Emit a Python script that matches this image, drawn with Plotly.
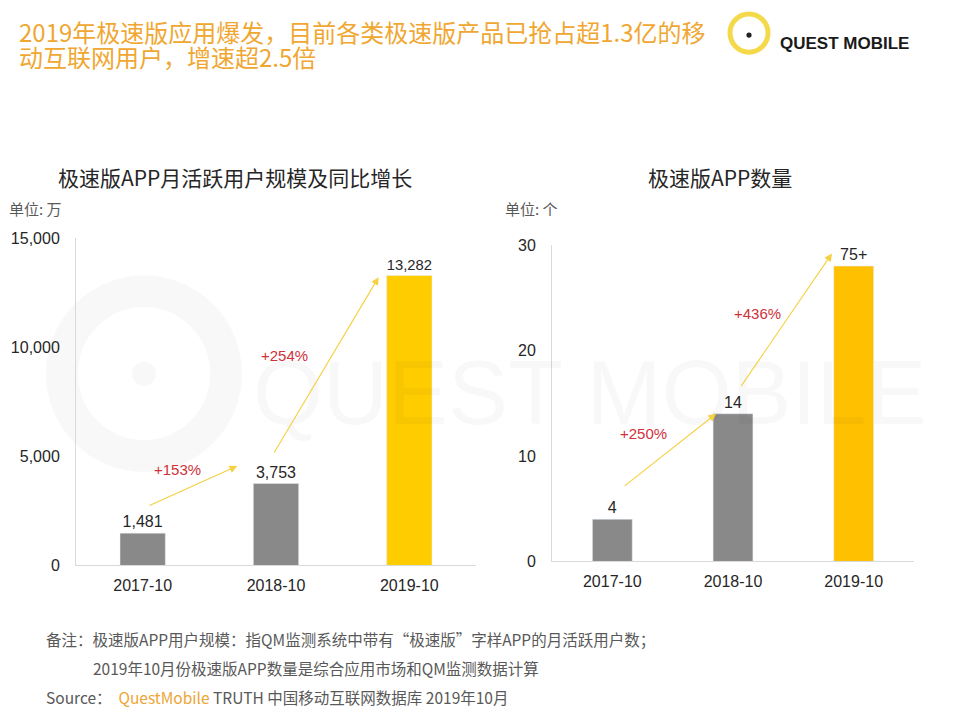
import plotly.graph_objects as go

# ---------------- data ----------------
months = ["2017-10", "2018-10", "2019-10"]
mau_values = [1481, 3753, 13282]          # 万
mau_labels = ["1,481", "3,753", "13,282"]
mau_growth = ["+153%", "+254%"]

app_count_drawn = [4, 14, 28]            # bar height as drawn (axis capped at 30)
app_count_labels = ["4", "14", "75+"]
app_growth = ["+250%", "+436%"]

left_ticks = [0, 5000, 10000, 15000]
left_ticktext = ["0", "5,000", "10,000", "15,000"]
right_ticks = [0, 10, 20, 30]

GREY = "#898989"
YEL_L = "#FFCC00"
YEL_R = "#FFC000"
ARROW = "#F5D040"
RED = "#D0313A"
TXT = "#262626"
NUMF = "Liberation Sans, Arial, Noto Sans CJK SC"
CJK = "Noto Sans CJK SC, Microsoft YaHei, sans-serif"

W, H = 960, 720
OFFX = 8

def px_x(x):
    return (x - OFFX) / W

def px_y(y):
    return 1 - ((y - 17) / 0.972) / H

def P(x, y):
    return dict(x=px_x(x), y=px_y(y), xref="paper", yref="paper")

fig = go.Figure()

fig.add_trace(go.Bar(
    x=months, y=mau_values, text=mau_labels, textposition="outside",
    marker_color=[GREY, GREY, YEL_L], width=0.34, cliponaxis=False,
    textfont=dict(family=NUMF, size=16, color=TXT),
    xaxis="x", yaxis="y", showlegend=False, hoverinfo="skip"))

fig.add_trace(go.Bar(
    x=months, y=app_count_drawn, text=app_count_labels, textposition="outside",
    marker_color=[GREY, GREY, YEL_R], width=0.33, cliponaxis=False,
    textfont=dict(family=NUMF, size=16, color=TXT),
    xaxis="x2", yaxis="y2", showlegend=False, hoverinfo="skip"))

axis_common = dict(showline=True, linecolor="#D9D9D9", linewidth=1,
                   showgrid=False, zeroline=False, ticks="",
                   tickfont=dict(family=NUMF, size=16, color=TXT))

fig.update_layout(
    width=W, height=H,
    margin=dict(l=0, r=0, t=0, b=0),
    paper_bgcolor="white", plot_bgcolor="rgba(0,0,0,0)",
    xaxis=dict(domain=[px_x(76), px_x(476)], anchor="y", type="category",
               ticklabelstandoff=5, **axis_common),
    yaxis=dict(domain=[px_y(564), px_y(238)], anchor="x", range=[0, 15000],
               tickvals=left_ticks, ticktext=left_ticktext,
               ticklabelstandoff=12, **axis_common),
    xaxis2=dict(domain=[px_x(552), px_x(914)], anchor="y2", type="category",
                ticklabelstandoff=5, **axis_common),
    yaxis2=dict(domain=[px_y(560), px_y(245)], anchor="x2", range=[0, 30],
                tickvals=right_ticks, ticklabelstandoff=12, **axis_common),
    font=dict(family=CJK),
)

ann = []
shapes = []

def circle(cx, cy, r, **kw):
    return dict(type="circle", xref="paper", yref="paper",
                x0=px_x(cx - r), x1=px_x(cx + r), y0=px_y(cy + r), y1=px_y(cy - r), **kw)

# watermark
WM = "rgba(0,0,0,0.028)"
shapes.append(circle(144, 373, 82, line=dict(color=WM, width=32), layer="below"))
shapes.append(circle(144, 373, 12, fillcolor=WM, line=dict(width=0), layer="below"))
ann.append(dict(text="QUEST MOBILE", **P(590, 392), xanchor="center", yanchor="middle",
                showarrow=False, font=dict(family="Liberation Sans", size=90, color=WM)))

# header
HC = "#F0A732"
ann.append(dict(text="2019年极速版应用爆发，目前各类极速版产品已抢占超1.3亿的移",
                **P(17, 32), xanchor="left", yanchor="middle", showarrow=False,
                font=dict(family=CJK, size=24, color=HC)))
ann.append(dict(text="动互联网用户，增速超2.5倍",
                **P(17, 57), xanchor="left", yanchor="middle", showarrow=False,
                font=dict(family=CJK, size=24, color=HC)))
# logo
shapes.append(circle(749, 34, 19, line=dict(color="#F4DA4A", width=5)))
shapes.append(circle(749, 36, 2.6, fillcolor="#222222", line=dict(width=0)))
ann.append(dict(text="<b>QUEST MOBILE</b>", **P(778, 44),
                xanchor="left", yanchor="middle", showarrow=False,
                font=dict(family="Liberation Sans", size=17, color="#1a1a1a")))

# chart titles
ann.append(dict(text="极速版APP月活跃用户规模及同比增长", **P(235, 177),
                xanchor="center", yanchor="middle", showarrow=False,
                font=dict(family=CJK, size=21, color="#262626")))
ann.append(dict(text="极速版APP数量", **P(720, 177),
                xanchor="center", yanchor="middle", showarrow=False,
                font=dict(family=CJK, size=21, color="#262626")))
ann.append(dict(text="单位: 万", **P(7, 209), xanchor="left", yanchor="middle",
                showarrow=False, font=dict(family=CJK, size=15, color="#595959")))
ann.append(dict(text="单位: 个", **P(503, 209), xanchor="left", yanchor="middle",
                showarrow=False, font=dict(family=CJK, size=15, color="#595959")))

# growth arrows
def arrow(xr, yr, x0, y0, x1, y1):
    return dict(x=x1, y=y1, ax=x0, ay=y0, xref=xr, yref=yr, axref=xr, ayref=yr,
                showarrow=True, arrowhead=2, arrowsize=1.4, arrowwidth=1.1,
                arrowcolor=ARROW, text="")

def lbl(t, xr, yr, x, y):
    return dict(text=t, x=x, y=y, xref=xr, yref=yr, showarrow=False,
                xanchor="center", yanchor="middle",
                font=dict(family=NUMF, size=15, color=RED))

ann.append(arrow("x", "y", 0.04, 2715, 0.71, 4556))
ann.append(arrow("x", "y", 0.98, 5108, 1.77, 13207))
ann.append(lbl(mau_growth[0], "x", "y", 0.26, 4418))
ann.append(lbl(mau_growth[1], "x", "y", 1.06, 9618))

ann.append(arrow("x2", "y2", 0.09, 7.05, 0.86, 14.0))
ann.append(arrow("x2", "y2", 1.06, 16.5, 1.82, 29.2))
ann.append(lbl(app_growth[0], "x2", "y2", 0.26, 12.1))
ann.append(lbl(app_growth[1], "x2", "y2", 1.2, 23.5))

# footer
FC = "#595959"
ann.append(dict(text="备注：极速版APP用户规模：指QM监测系统中带有“极速版”字样APP的月活跃用户数；",
                **P(44, 637), xanchor="left", yanchor="middle",
                showarrow=False, font=dict(family=CJK, size=15.5, color=FC)))
ann.append(dict(text="2019年10月份极速版APP数量是综合应用市场和QM监测数据计算",
                **P(91, 666), xanchor="left", yanchor="middle",
                showarrow=False, font=dict(family=CJK, size=15.5, color=FC)))
ann.append(dict(text="Source：  <span style='color:#EDA534'>QuestMobile</span> TRUTH 中国移动互联网数据库 2019年10月",
                **P(44, 695), xanchor="left", yanchor="middle",
                showarrow=False, font=dict(family=CJK, size=15.5, color=FC)))

fig.update_layout(annotations=ann, shapes=shapes)
fig.write_html("out.html")
